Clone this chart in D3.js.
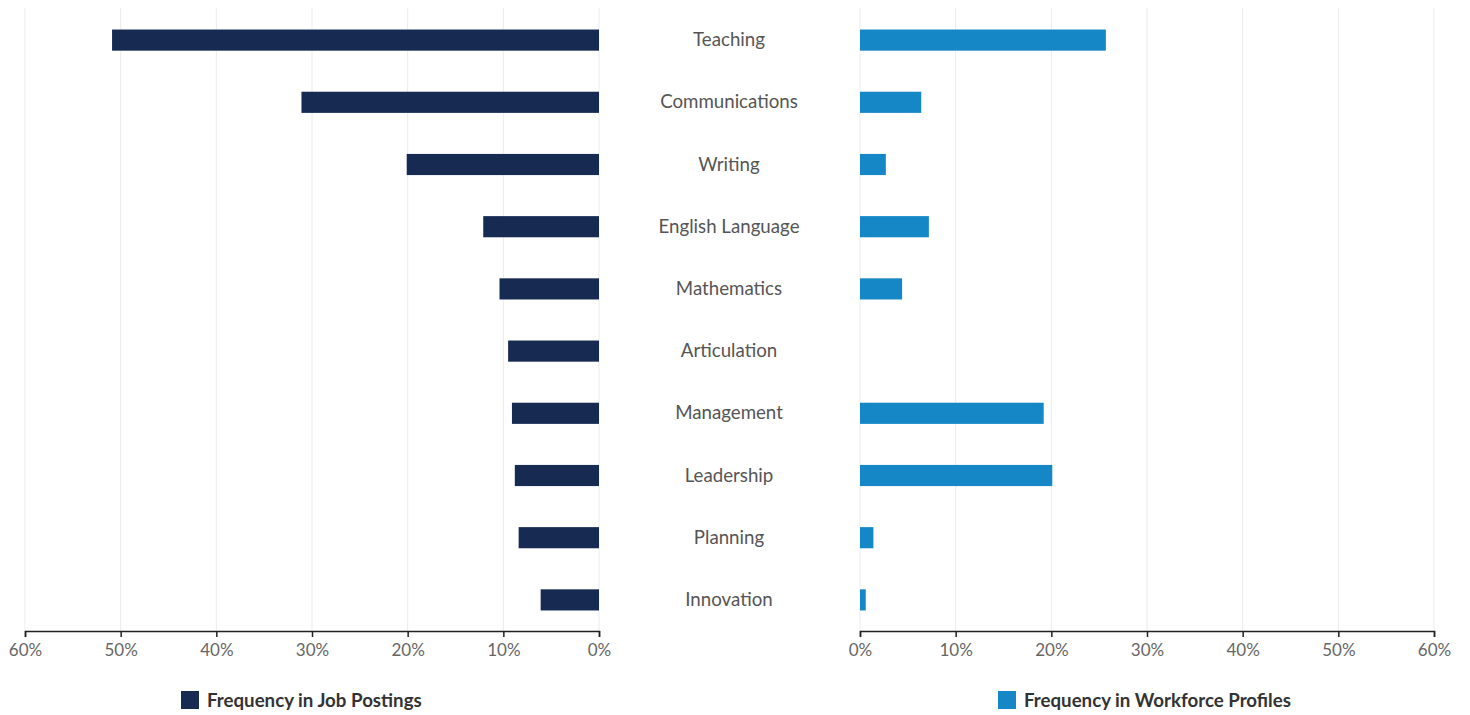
<!DOCTYPE html>
<html><head><meta charset="utf-8">
<script src="https://cdn.jsdelivr.net/npm/d3@7"></script>
<style>body{margin:0;background:#fff;font-family:Lato,"Open Sans",sans-serif;}</style>
</head><body><svg id="c" width="1470" height="715"></svg>
<script>
const categories = ["Teaching","Communications","Writing","English Language","Mathematics","Articulation","Management","Leadership","Planning","Innovation"];
const jobPostings = [50.9, 31.1, 20.1, 12.1, 10.4, 9.5, 9.1, 8.8, 8.4, 6.1];
const workforceProfiles = [25.7, 6.4, 2.7, 7.2, 4.4, 0, 19.2, 20.1, 1.4, 0.6];
const tickValues = [0,10,20,30,40,50,60];
const seriesNames = ["Frequency in Job Postings","Frequency in Workforce Profiles"];
const colors = ["#172a52","#1587c6"];

(function(){
const svg = d3.select("#c");
const plotTop = 9, plotBottom = 631;
const y = d3.scaleBand().domain(categories).range([plotTop,plotBottom]).paddingInner(0.66).paddingOuter(0.33);
const xL = d3.scaleLinear().domain([0,60]).range([599,25]);
const xR = d3.scaleLinear().domain([0,60]).range([860,1434]);

function grid(x){
  svg.append("g").selectAll("line").data(tickValues).join("line")
    .attr("x1",d=>x(d)).attr("x2",d=>x(d)).attr("y1",plotTop-1).attr("y2",plotBottom)
    .attr("stroke","#ebebeb").attr("stroke-width",1);
}
grid(xL); grid(xR);

svg.append("g").selectAll("rect").data(categories).join("rect")
  .attr("x",(d,i)=>xL(jobPostings[i])).attr("width",(d,i)=>xL(0)-xL(jobPostings[i]))
  .attr("y",d=>y(d)).attr("height",y.bandwidth()).attr("fill",colors[0]);
svg.append("g").selectAll("rect").data(categories).join("rect")
  .attr("x",xR(0)).attr("width",(d,i)=>xR(workforceProfiles[i])-xR(0))
  .attr("y",d=>y(d)).attr("height",y.bandwidth()).attr("fill",colors[1]);

svg.append("g").selectAll("text").data(categories).join("text")
  .attr("x",729).attr("y",d=>y(d)+y.bandwidth()/2).attr("dy","0.33em")
  .attr("text-anchor","middle").attr("font-size",18.7).attr("fill","#555")
  .text(d=>d);

function axis(x){
  const g = svg.append("g").attr("transform",`translate(0,${plotBottom})`)
    .call(d3.axisBottom(x).tickValues(tickValues).tickSize(6).tickSizeOuter(6).tickFormat(d=>d+"%"));
  g.select(".domain").attr("stroke","#222").attr("stroke-width",1.5);
  g.selectAll(".tick line").attr("stroke","#222").attr("stroke-width",1.5);
  g.selectAll(".tick text").attr("font-size",17).attr("fill","#666").attr("font-family","Lato").attr("dy","0.95em");
}
axis(xL); axis(xR);

const legendX = [181, 998];
seriesNames.forEach((n,i)=>{
  svg.append("rect").attr("x",legendX[i]).attr("y",691).attr("width",18).attr("height",18).attr("fill",colors[i]);
  svg.append("text").attr("x",legendX[i]+26).attr("y",700).attr("dy","0.35em")
    .attr("font-size",18.7).attr("font-weight","bold").attr("fill","#333").text(n);
});
})();
</script></body></html>
